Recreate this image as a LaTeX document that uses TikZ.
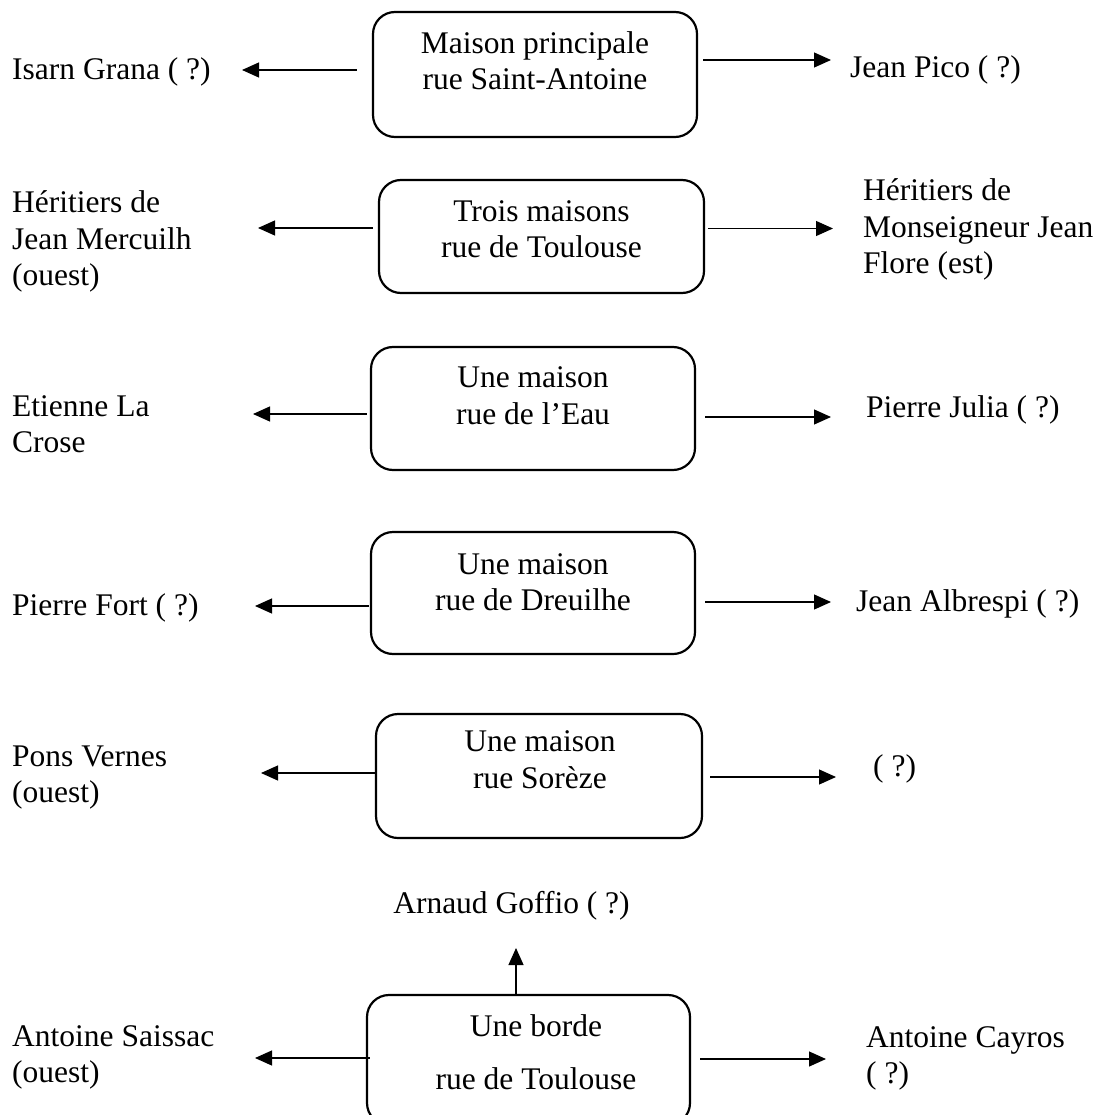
\documentclass[tikz,border=0pt]{standalone}
\usepackage{fontspec}
\setmainfont{Liberation Serif}
\usetikzlibrary{arrows.meta,calc}
\begin{document}
\begin{tikzpicture}[x=1pt,y=-1pt,
  every node/.style={font=\fontsize{31.5}{36.5}\selectfont, inner sep=0pt},
  house/.style={draw, line width=2.2pt, rounded corners=22pt},
  btxt/.style={align=center},
  side/.style={align=left, anchor=west},
  arr/.style={-{Triangle[length=17pt,width=15pt]}, line width=1.2pt}]
\useasboundingbox (0,0) rectangle (1101,1115);
\clip (0,0) rectangle (1101,1115);

% boxes
\node[house, minimum width=324, minimum height=125] (b1) at (535,74.5) {};
\node[house, minimum width=325, minimum height=113] (b2) at (541.5,236.5) {};
\node[house, minimum width=324, minimum height=123] (b3) at (533,408.5) {};
\node[house, minimum width=324, minimum height=122] (b4) at (533,593) {};
\node[house, minimum width=326, minimum height=124] (b5) at (539,776) {};
\node[house, minimum width=323, minimum height=130] (b6) at (528.5,1060) {};

% box texts
\node[btxt] (b1t) at (535,64) {\strut Maison principale\\\strut rue Saint-Antoine};
\node[btxt] (b2t) at (541.5,232) {\strut Trois maisons\\\strut rue de Toulouse};
\node[btxt] (b3t) at (533,398.5) {\strut Une maison\\\strut rue de l’Eau};
\node[btxt] (b4t) at (533,585) {\strut Une maison\\\strut rue de Dreuilhe};
\node[btxt] (b5t) at (540,762.5) {\strut Une maison\\\strut rue Sorèze};
\node[btxt] (b6t) at (536,1055.5) {\strut Une borde\\[16pt]\strut rue de Toulouse};

% left texts
\node[side] (l1) at (12,72) {\strut Isarn Grana ( ?)};
\node[side] (l2) at (12,242) {\strut Héritiers de\\\strut Jean Mercuilh\\\strut (ouest)};
\node[side] (l3) at (12,427) {\strut Etienne La\\\strut Crose};
\node[side] (l4) at (12,608) {\strut Pierre Fort ( ?)};
\node[side] (l5) at (12,777) {\strut Pons Vernes\\\strut (ouest)};
\node[side] (l6) at (12,1057) {\strut Antoine Saissac\\\strut (ouest)};

% right texts
\node[side] (r1) at (850,70) {\strut Jean Pico ( ?)};
\node[side] (r2) at (863,230) {\strut Héritiers de\\\strut Monseigneur Jean\\\strut Flore (est)};
\node[side] (r3) at (866,410) {\strut Pierre Julia ( ?)};
\node[side] (r4) at (856,604) {\strut Jean Albrespi ( ?)};
\node[side] (r5) at (873,769) {\strut ( ?)};
\node[side] (r6) at (866,1058) {\strut Antoine Cayros\\\strut ( ?)};

% top text
\node (top) at (511.5,906) {\strut Arnaud Goffio ( ?)};

% arrow tips (free ends)
\coordinate (p1l) at (242,70);
\coordinate (p2l) at (258,228);
\coordinate (p3l) at (253,414);
\coordinate (p4l) at (255,606);
\coordinate (p5l) at (261,773);
\coordinate (p6l) at (255,1058);
\coordinate (p1r) at (831,60);
\coordinate (p2r) at (833,228.5);
\coordinate (p3r) at (831,417);
\coordinate (p4r) at (831,602);
\coordinate (p5r) at (836,777);
\coordinate (p6r) at (826,1059);
\coordinate (pup) at (516,948);

% left arrows
\draw[arr] ($(b1.west |- p1l)+(-15,0)$) -- (p1l);
\draw[arr] ($(b2.west |- p2l)+(-5,0)$) -- (p2l);
\draw[arr] ($(b3.west |- p3l)+(-3,0)$) -- (p3l);
\draw[arr] ($(b4.west |- p4l)+(-1,0)$) -- (p4l);
\draw[arr] ($(b5.west |- p5l)+(1,0)$) -- (p5l);
\draw[arr] ($(b6.west |- p6l)+(4,0)$) -- (p6l);
% right arrows
\draw[arr] ($(b1.east |- p1r)+(5,0)$) -- (p1r);
\draw[arr] ($(b2.east |- p2r)+(3,0)$) -- (p2r);
\draw[arr] ($(b3.east |- p3r)+(9,0)$) -- (p3r);
\draw[arr] ($(b4.east |- p4r)+(9,0)$) -- (p4r);
\draw[arr] ($(b5.east |- p5r)+(7,0)$) -- (p5r);
\draw[arr] ($(b6.east |- p6r)+(9,0)$) -- (p6r);
% up arrow
\draw[arr] (b6.north -| pup) -- (pup);
\end{tikzpicture}
\end{document}
